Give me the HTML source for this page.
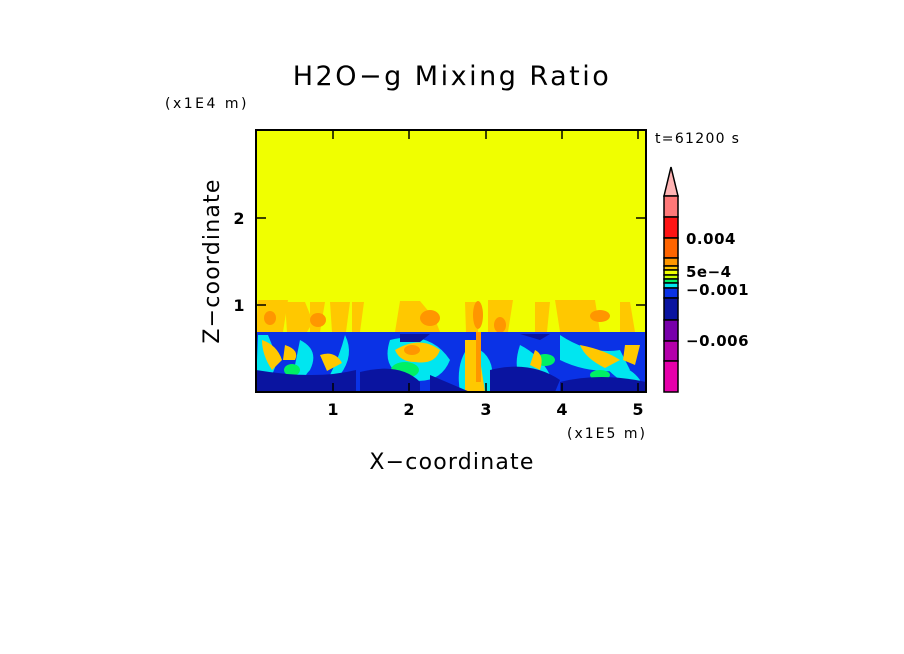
<!DOCTYPE html>
<html><head><style>
body{margin:0;background:#fff;}
svg{display:block;font-family:"DejaVu Sans","Liberation Sans",sans-serif;}
</style></head><body>
<svg width="904" height="654" xmlns="http://www.w3.org/2000/svg">
<rect width="904" height="654" fill="#fff"/>
<text x="452" y="85" font-size="27" text-anchor="middle" fill="#000" letter-spacing="2.5">H2O−g Mixing Ratio</text>
<text x="165" y="108" font-size="14" fill="#000" letter-spacing="2.5">(x1E4 m)</text>
<text x="655" y="143" font-size="14" fill="#000" letter-spacing="1.3">t=61200 s</text>
<!-- plot -->
<rect x="256" y="130" width="390" height="262" fill="#f0ff00"/>
<g fill="#ffc800">
<path d="M258 300 h30 l-5 32 h-27z"/>
<path d="M285 302 h20 l8 20 l-6 10 h-20z"/>
<path d="M310 302 h15 l-5 30 h-10z"/>
<path d="M330 302 h20 l-4 30 h-14z"/>
<path d="M352 302 h12 l-4 30 h-8z"/>
<path d="M400 301 h20 l15 18 l5 13 h-45z"/>
<path d="M465 302 h15 l-2 30 h-12z"/>
<path d="M488 300 h25 l-5 32 h-20z"/>
<path d="M535 302 h15 l-3 30 h-12z"/>
<path d="M555 300 h40 l5 32 h-40z"/>
<path d="M620 302 h10 l5 30 h-15z"/>
</g>
<g fill="#ff9600">
<ellipse cx="318" cy="320" rx="8" ry="7"/>
<ellipse cx="430" cy="318" rx="10" ry="8"/>
<ellipse cx="478" cy="315" rx="5" ry="14"/>
<ellipse cx="500" cy="325" rx="6" ry="8"/>
<ellipse cx="600" cy="316" rx="10" ry="6"/>
<ellipse cx="270" cy="318" rx="6" ry="7"/>
</g>
<rect x="256" y="332" width="390" height="60" fill="#0a32e6"/>
<g fill="#00e6f0">
<path d="M258 335 h10 l10 25 l-10 25 h-12z"/>
<path d="M300 340 q20 10 10 30 q-10 10 -5 20 h-15 q5-25 10-50z"/>
<path d="M345 335 q10 20 -5 40 h-10 q10-20 15-40z"/>
<path d="M390 340 q40 -10 60 20 q-10 25 -40 20 q-30 -10 -20 -40z"/>
<path d="M470 345 q30 10 20 47 h-30 q-5-30 10-47z"/>
<path d="M520 345 q20 10 30 30 l-20 10 q-20-10 -10-40z"/>
<path d="M560 335 q30 20 60 15 l10 20 q-40 5 -70 -10z"/>
<path d="M600 360 q30 5 40 20 l-5 10 q-25-15 -35-30z"/>
</g>
<g fill="#00f064">
<ellipse cx="405" cy="370" rx="14" ry="8"/>
<ellipse cx="292" cy="370" rx="8" ry="6"/>
<ellipse cx="545" cy="360" rx="10" ry="6"/>
<ellipse cx="600" cy="375" rx="10" ry="5"/>
</g>
<g fill="#ffc800">
<path d="M262 340 q15 5 20 20 l-10 10 q-10 -15 -10 -30z"/>
<path d="M285 345 q15 5 10 15 h-12z"/>
<path d="M320 355 q15 -5 22 8 l-15 8z"/>
<path d="M395 350 q25 -15 45 0 q-5 15 -25 12 q-15 0 -20 -12z"/>
<path d="M465 340 l12 0 l8 52 h-20z"/>
<path d="M535 350 q10 5 5 20 l-10 -5z"/>
<path d="M580 345 q25 5 40 15 l-15 8 q-20-10 -25-23z"/>
<path d="M625 345 l15 0 l-5 20 l-12 -5z"/>
</g>
<g fill="#ff9600">
<ellipse cx="412" cy="350" rx="8" ry="5"/>
<rect x="476" y="332" width="5" height="50"/>
</g>
<g fill="#0a14a0">
<path d="M256 370 q60 10 100 0 v22 h-100z"/>
<path d="M360 372 q40 -10 60 10 v10 h-60z"/>
<path d="M430 375 l40 17 h-40z"/>
<path d="M490 370 q40 -10 70 10 l-5 12 h-65z"/>
<path d="M560 382 q40 -10 86 0 v10 h-86z"/>
<path d="M400 334 h30 l-10 8 h-20z"/>
<path d="M520 334 h30 l-10 6z"/>
</g>
<rect x="256" y="130" width="390" height="262" fill="none" stroke="#000" stroke-width="2"/>
<g stroke="#000" stroke-width="1.5">
<line x1="333" y1="392" x2="333" y2="383"/><line x1="409" y1="392" x2="409" y2="383"/>
<line x1="486" y1="392" x2="486" y2="383"/><line x1="562" y1="392" x2="562" y2="383"/>
<line x1="638" y1="392" x2="638" y2="383"/>
<line x1="333" y1="130" x2="333" y2="139"/><line x1="409" y1="130" x2="409" y2="139"/>
<line x1="486" y1="130" x2="486" y2="139"/><line x1="562" y1="130" x2="562" y2="139"/>
<line x1="638" y1="130" x2="638" y2="139"/>
<line x1="256" y1="305" x2="266" y2="305"/><line x1="256" y1="218" x2="266" y2="218"/>
<line x1="646" y1="305" x2="636" y2="305"/><line x1="646" y1="218" x2="636" y2="218"/>
</g>
<g font-size="16" text-anchor="middle" fill="#000" font-weight="bold">
<text x="333" y="415">1</text><text x="409" y="415">2</text><text x="486" y="415">3</text>
<text x="562" y="415">4</text><text x="638" y="415">5</text>
<text x="239" y="311">1</text><text x="239" y="224">2</text>
</g>
<text x="567" y="438" font-size="14" fill="#000" letter-spacing="2">(x1E5 m)</text>
<text x="452" y="469" font-size="22" text-anchor="middle" fill="#000" letter-spacing="1.2">X−coordinate</text>
<text transform="translate(219,261) rotate(-90)" font-size="22" text-anchor="middle" fill="#000" letter-spacing="1.2">Z−coordinate</text>
<g stroke="#000" stroke-width="1.5">
<path d="M664 196 L671 167 L678 196Z" fill="#ffb4b4"/>
<rect x="664" y="196" width="14" height="21" fill="#ff7878"/>
<rect x="664" y="217" width="14" height="21" fill="#ff1414"/>
<rect x="664" y="238" width="14" height="20" fill="#ff6400"/>
<rect x="664" y="258" width="14" height="8" fill="#ff9600"/>
<rect x="664" y="266" width="14" height="4" fill="#ffc800"/>
<rect x="664" y="270" width="14" height="5" fill="#f0ff00"/>
<rect x="664" y="275" width="14" height="4" fill="#c8ff00"/>
<rect x="664" y="279" width="14" height="4" fill="#00f064"/>
<rect x="664" y="283" width="14" height="5" fill="#00e6f0"/>
<rect x="664" y="288" width="14" height="10" fill="#0a32e6"/>
<rect x="664" y="298" width="14" height="22" fill="#0a14a0"/>
<rect x="664" y="320" width="14" height="21" fill="#7800aa"/>
<rect x="664" y="341" width="14" height="20" fill="#b400aa"/>
<rect x="664" y="361" width="14" height="31" fill="#e600aa"/>
</g>
<g font-size="15" fill="#000" font-weight="bold" letter-spacing="0.5">
<text x="686" y="244">0.004</text>
<text x="686" y="277">5e−4</text>
<text x="686" y="295">−0.001</text>
<text x="686" y="346">−0.006</text>
</g>
</svg>
</body></html>
